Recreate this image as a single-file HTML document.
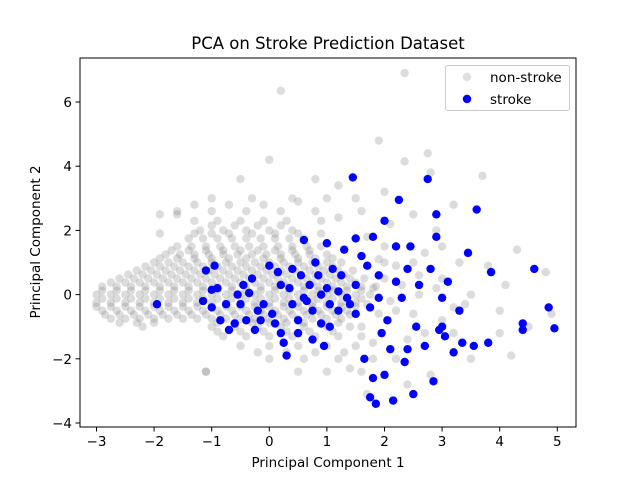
<!DOCTYPE html>
<html><head><meta charset="utf-8"><style>
body{margin:0;background:#fff;width:640px;height:480px;overflow:hidden}
svg text{font-family:"DejaVu Sans","Liberation Sans",sans-serif;fill:#000}
</style></head><body>
<svg id="chart" width="640" height="480" viewBox="0 0 640 480" xmlns="http://www.w3.org/2000/svg">
<rect width="640" height="480" fill="#fff"/>
<text x="328" y="49" font-size="16.5" text-anchor="middle">PCA on Stroke Prediction Dataset</text>
<g id="gray"></g>
<g id="blue"></g>
<rect x="80" y="58" width="496" height="369" fill="none" stroke="#000" stroke-width="1"/>
<g id="xticks"></g>
<g id="yticks"></g>
<text x="328" y="467" font-size="13.5" text-anchor="middle">Principal Component 1</text>
<text transform="translate(40,242) rotate(-90)" font-size="13.5" text-anchor="middle">Principal Component 2</text>
<g>
<rect x="445.5" y="65.5" width="124" height="45" rx="2" fill="#fff" fill-opacity="0.8" stroke="#ccc"/>
<circle cx="467" cy="77" r="4.2" fill="#808080" fill-opacity="0.25"/>
<text x="490" y="82" font-size="13.5">non-stroke</text>
<circle cx="467" cy="99" r="4.2" fill="#0000ff"/>
<text x="490" y="104" font-size="13.5">stroke</text>
</g>
</svg>
<script>
const xTicks=[-3,-2,-1,0,1,2,3,4,5];
const yTicks=[-4,-2,0,2,4,6];
const grayRows=[
[-0.875,[-2.6,-2.3,-2.0,-0.9,-0.6,-0.3,0,0.3,0.6,0.9,1.2]],
[-0.75,[-2.75,-2.5,-2.25,-2,-1.75,-1.5,-1.25,-1,-0.75,-0.5,-0.25,0,0.25,0.5,0.75,1,1.25]],
[-0.625,[-2.85,-2.6,-2.35,-2.1,-1.85,-1.6,-1.35,-1.1,-0.85,-0.6,-0.35,-0.1,0.15,0.4,0.65,0.9,1.15,1.4]],
[-0.5,[-2.9,-2.65,-2.4,-2.15,-1.9,-1.65,-1.4,-1.15,-0.9,-0.65,-0.4,-0.15,0.1,0.35,0.6,0.85,1.1,1.35]],
[-0.375,[-3,-2.75,-2.5,-2.25,-2,-1.75,-1.5,-1.25,-1,-0.75,-0.5,-0.25,0,0.25,0.5,0.75,1,1.25,1.5]],
[-0.25,[-3,-2.75,-2.5,-2.25,-2,-1.75,-1.5,-1.25,-1,-0.75,-0.5,-0.25,0,0.25,0.5,0.75,1,1.25,1.5]],
[-0.125,[-2.9,-2.65,-2.4,-2.15,-1.9,-1.65,-1.4,-1.15,-0.9,-0.65,-0.4,-0.15,0.1,0.35,0.6,0.85,1.1,1.35,1.6]],
[0,[-3,-2.75,-2.5,-2.25,-2,-1.75,-1.5,-1.25,-1,-0.75,-0.5,-0.25,0,0.25,0.5,0.75,1,1.25,1.5,1.75]],
[0.125,[-2.9,-2.65,-2.4,-2.15,-1.9,-1.65,-1.4,-1.15,-0.9,-0.65,-0.4,-0.15,0.1,0.35,0.6,0.85,1.1,1.35,1.6]],
[0.25,[-2.9,-2.65,-2.4,-2.15,-1.9,-1.65,-1.4,-1.15,-0.9,-0.65,-0.4,-0.15,0.1,0.35,0.6,0.85,1.1,1.35,1.6,1.85]],
[0.375,[-2.75,-2.5,-2.25,-2,-1.75,-1.5,-1.25,-1,-0.75,-0.5,-0.25,0,0.25,0.5,0.75,1,1.25,1.5]],
[0.5,[-2.6,-2.35,-2.1,-1.85,-1.6,-1.35,-1.1,-0.85,-0.6,-0.35,-0.1,0.15,0.4,0.65,0.9,1.15,1.4,1.65]],
[0.625,[-2.45,-2.2,-1.95,-1.7,-1.45,-1.2,-0.95,-0.7,-0.45,-0.2,0.05,0.3,0.55,0.8,1.05,1.3]],
[0.75,[-2.3,-2.05,-1.8,-1.55,-1.3,-1.05,-0.8,-0.55,-0.3,-0.05,0.2,0.45,0.7,0.95,1.2,1.45]],
[0.875,[-2.15,-1.9,-1.65,-1.4,-1.15,-0.9,-0.65,-0.4,-0.15,0.1,0.35,0.6,0.85,1.1]],
[1,[-2,-1.75,-1.5,-1.25,-1,-0.75,-0.5,-0.25,0,0.25,0.5,0.75,1,1.25]],
[1.125,[-1.9,-1.6,-1.3,-1.0,-0.7,-0.4,-0.1,0.2,0.5,0.8,1.1]],
[1.25,[-1.8,-1.55,-1.3,-1.05,-0.8,-0.55,-0.3,-0.05,0.2,0.45,0.7,1]],
[1.375,[-1.7,-1.4,-1.1,-0.8,-0.5,-0.2,0.1,0.4,0.7]],
[1.5,[-1.6,-1.35,-1.1,-0.85,-0.6,-0.35,-0.1,0.15,0.4,0.65,0.9]],
[1.75,[-1.4,-1.15,-0.9,-0.65,-0.4,-0.15,0.1,0.35,0.6]],
[1.9,[-1.9,-1.3,-1.0,-0.7,-0.3,0.1,0.5,0.9]],
[2,[-1.2,-0.8,-0.4,0,0.4]],
[2.15,[-1.0,-0.6,-0.2,0.2]],
[2.3,[-1.3,-0.9,-0.5,-0.1,0.3,0.9]],
[2.6,[-1.6,-1.0,-0.4,0.2,0.8]],
[2.8,[-1.3,-0.7,-0.1]],
[3,[-1.0,-0.3,0.4,1.0]],
[-1,[-2.2,-1.0,-0.6,-0.2,0.2,0.6,1.0,1.4]],
[-1.15,[-0.9,-0.5,-0.1,0.3,0.7,1.1]],
[-1.3,[-0.8,-0.4,0,0.4,0.8,1.2,1.6]],
[-1.6,[-0.5,0,0.5,1,1.5]],
[-1.8,[-0.2,0.3,0.8,1.3]],
[-2,[0,0.6,1.2,1.8]],
[-2.4,[-1.1,0.5,1.0,1.6]]
];
const grayExtra=[[2.0,1.5],[2.5,1.0],[3,0.5],[3.5,0],[4,-0.5],[4.5,-1],[3,1.5],[2.5,2.5],[3.2,2.8],[3.7,3.7],[2.8,3.8],[2,3.2],[1.6,2.6],[2.2,-2],[2.8,-2.5],[3.5,-2],[4.2,-1.9],[2.4,-2.8],[1.7,-3.1],[3.2,-1.2],[3.8,0.9],[4.3,1.4],[4.8,0.7],[4.9,-0.6],[2,0.5],[2.2,-0.5],[2.6,0],[3,-0.8],[2.2,0.9],[2.7,-1.2],[1.8,-1.5],[3.4,-0.3],[4.1,0.3],[4,-1.2],[2.9,2],[1.7,1.8],[2.1,2.2],[1.5,3],[1.2,2.4],[1.2,3.4],[0.8,3.6],[0.5,2.9],[0.2,6.35],[2.35,6.9],[1.9,4.8],[0,4.2],[2.35,4.15],[2.75,4.4],[-1.6,2.5],[-1.9,2.5],[-1.1,-2.4],[-0.5,3.6],[1.6,-1.0],[2.4,-1.4],[1.4,-2.3],[3.3,1.0],[2.7,1.3],[1.9,1.1],[1.8,0.2],[2.1,-0.2],[1.9,-0.6],[2.3,0.3],[1.7,-0.3],[2.5,-0.6],[2.9,0.2],[3.2,-0.4],[2.6,0.6],[2.0,1.0]];
const strokeX=[-1.95,-1.1,-0.95,-1,-0.9,-1,-1.15,-0.85,-0.7,-0.6,-0.75,-0.55,-0.5,-0.4,-0.45,-0.35,-0.2,-0.15,-0.25,-0.1,0,0.05,0.1,0.15,0.2,0.25,0.3,0.35,0.4,0.5,0.5,0.55,0.6,0.6,0.7,0.75,0.75,0.8,0.85,0.9,0.95,1,1,1.05,1.05,1.1,1.2,1.25,1.3,1.35,1.45,1.5,1.5,1.5,1.6,1.65,1.7,1.75,1.75,1.8,1.8,1.85,1.9,1.95,2,2,2.05,2.1,2.15,2.2,2.25,2.2,2.3,2.35,2.4,2.45,2.5,2.55,2.6,2.7,2.75,2.8,2.85,2.9,2.9,2.95,3,3.05,3.1,3.2,3.3,3.35,3.45,3.55,3.6,3.8,3.85,4.4,4.4,4.6,4.85,4.95,3.0,2.4,1.2,0.4,0.2,-0.3,1.9,1.4,0.9,0.65];
const strokeY=[-0.3,0.75,0.9,0.15,0.2,-0.4,-0.2,-0.8,-1.1,-0.9,-0.3,0,-0.3,-0.8,0.3,0.05,-0.5,-0.8,-1.1,-0.3,0.9,-0.6,-0.9,0.7,-1.2,-1.5,-1.9,0.2,-0.3,-0.8,-1.2,0.6,1.7,-0.1,0.3,-0.5,-1.4,1.0,0.6,-0.9,-1.6,1.6,0.2,-0.3,-1.0,0.8,-0.5,0.6,1.4,-0.1,3.65,1.75,0.3,-0.6,1.2,-2.0,0.9,-0.4,-3.2,-2.6,1.8,-3.4,0.6,-1.2,2.3,-2.5,-0.8,-1.7,-3.3,1.5,2.95,0.4,-0.1,-2.1,0.8,1.5,-3.1,-1.0,0.3,-1.6,3.6,0.8,-2.7,1.8,2.5,-1.1,-0.1,-1.3,0.4,-1.8,-0.5,-1.5,1.3,-1.6,2.65,-1.5,0.7,-1.1,-0.9,0.8,-0.4,-1.05,-1.0,-1.7,0.1,0.8,0.3,0.5,-0.1,-0.3,0.0,-0.2];

const NS='http://www.w3.org/2000/svg';
const X0=80,X1=576,Y0=58,Y1=427;
function sx(v){return 96.5+(v+3)*57.6;}
function sy(v){return 294.6-v*32.1;}
function mk(tag,attrs,parent){const e=document.createElementNS(NS,tag);for(const k in attrs)e.setAttribute(k,attrs[k]);parent.appendChild(e);return e;}
const gG=document.getElementById('gray');
function grayDot(x,y){
  const c=mk('circle',{cx:sx(x),cy:sy(y),r:4.2,fill:'#808080','fill-opacity':0.28},gG);
  
  
}
grayRows.forEach(r=>r[1].forEach(x=>grayDot(x,r[0])));
grayExtra.forEach(p=>grayDot(p[0],p[1]));
const bG=document.getElementById('blue');
strokeX.forEach((x,i)=>{
  const c=mk('circle',{cx:sx(x),cy:sy(strokeY[i]),r:4.2,fill:'#0000ff'},bG);
  
  
});
const xg=document.getElementById('xticks');
xTicks.forEach(t=>{
  const l=mk('line',{x1:sx(t),x2:sx(t),y1:Y1,y2:Y1+4.5,stroke:'#000'},xg);
  
  
  const tx=mk('text',{x:sx(t),y:Y1+19,'font-size':13.5,'text-anchor':'middle'},xg);
  tx.textContent=t<0?'\u2212'+(-t):String(t);
  
  
});
const yg=document.getElementById('yticks');
yTicks.forEach(t=>{
  const l=mk('line',{x1:X0-4.5,x2:X0,y1:sy(t),y2:sy(t),stroke:'#000'},yg);
  
  
  const tx=mk('text',{x:X0-8,y:sy(t)+5,'font-size':13.5,'text-anchor':'end'},yg);
  tx.textContent=t<0?'\u2212'+(-t):String(t);
  
  
});
</script>
</body></html>
